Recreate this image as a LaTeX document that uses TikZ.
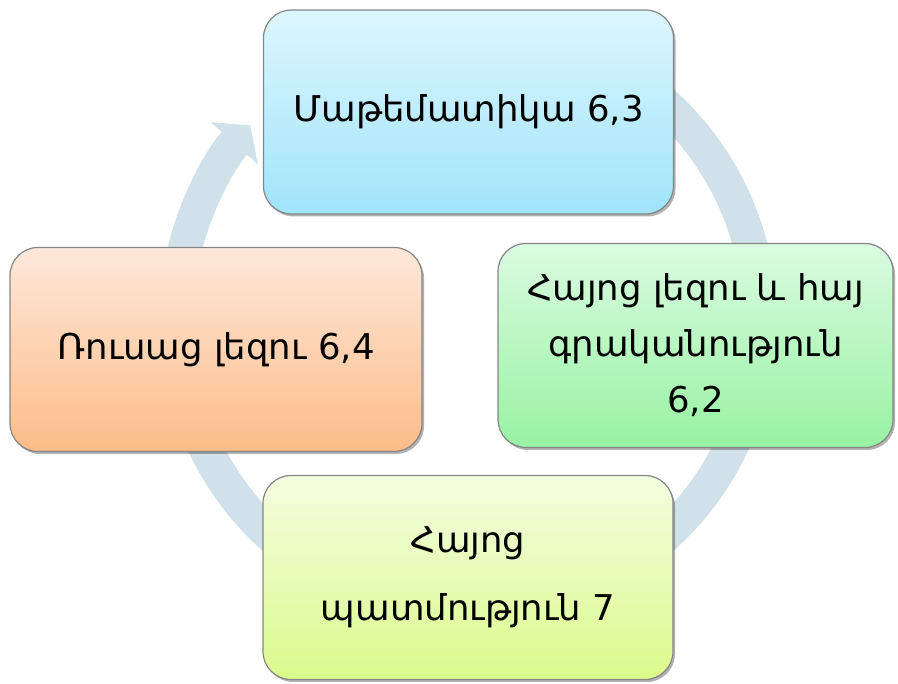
\documentclass[tikz,border=0pt]{standalone}
\usepackage{fontspec}
\setmainfont{DejaVu Sans}
\usepackage{tikz}
\usetikzlibrary{arrows.meta, shadows}
\definecolor{anilloCol}{HTML}{D0E1E9}
\definecolor{bordeCol}{HTML}{858585}
\definecolor{azulA}{HTML}{DDF6FE}
\definecolor{azulB}{HTML}{A0E4FB}
\definecolor{verdeA}{HTML}{DAFBE0}
\definecolor{verdeB}{HTML}{98F2A3}
\definecolor{limaA}{HTML}{F3FDE0}
\definecolor{limaB}{HTML}{DBFB8C}
\definecolor{naranjaA}{HTML}{FEE8DA}
\definecolor{naranjaB}{HTML}{FCBC88}
\tikzstyle{nodoCaja} = [rectangle, rounded corners=28pt, minimum width=410pt, minimum height=204pt, text centered, align=center, draw=bordeCol, line width=1.2pt, font=\fontsize{35.5}{56}\selectfont, drop shadow={shadow xshift=2pt, shadow yshift=-2.5pt, opacity=0.3, fill=black}]
\tikzstyle{anillo} = [line width=34pt, draw=anilloCol, -{Triangle[width=62pt, length=24pt]}]

\begin{document}
\begin{tikzpicture}[x=1pt, y=1pt]
    \useasboundingbox (0,0) rectangle (898,684);
    \coordinate (centro) at (468,364);
    \draw[anillo] ([shift={(75:292pt)}]centro) arc[start angle=75, end angle=-221.8, radius=292pt];

    \node (Mat) [nodoCaja, top color=azulA, bottom color=azulB] at (468.5,572) {Մաթեմատիկա 6,3};
    \node (Hay) [nodoCaja, minimum width=395pt, top color=verdeA, bottom color=verdeB] at (695.5,338.5) {Հայոց լեզու և հայ\\գրականություն\\6,2};
    \node (Pat) [nodoCaja, top color=limaA, bottom color=limaB] at (468,106.5) {Հայոց\\[12pt]պատմություն 7};
    \node (Rus) [nodoCaja, minimum width=412pt, top color=naranjaA, bottom color=naranjaB] at (216,334.5) {Ռուսաց լեզու 6,4};
\end{tikzpicture}
\end{document}
